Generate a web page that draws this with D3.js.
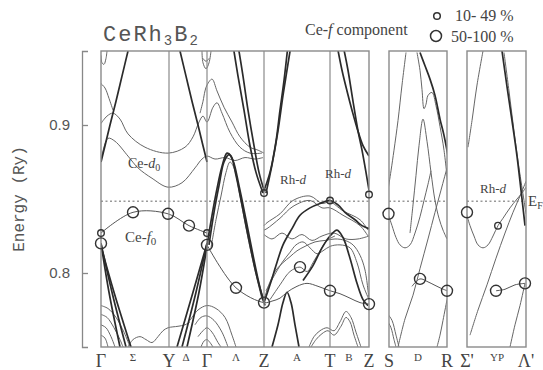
<!DOCTYPE html>
<html lang="en">
<head>
<meta charset="UTF-8">
<title>CeRh3B2 band structure</title>
<style>
  body { margin: 0; background: #fff; }
  svg text { fill: #444; }
</style>
</head>
<body>
<svg id="svg" width="543" height="370"></svg>
<script src="https://d3js.org/d3.v7.min.js"></script>
<script>
// k-path: symmetry points / lines and their position along the path (arb. units)
const kNames = ['Γ', 'Σ', 'Y', 'Δ', 'Γ', 'Λ', 'Z', 'A', 'T', 'B', 'Z', 'S', 'D', 'R', "Σ'", 'YP', "Λ'"]
const kValues = [0, 32, 68, 85, 106, 135, 163, 196, 229, 248, 268, 288, 317, 346, 366, 396, 425]
const lineLabels = ['Σ', 'Δ', 'Λ', 'A', 'B', 'D', 'YP']
const panels = [[0, 268], [288, 346], [366, 425]]
const yTicks = [0.8, 0.9]
const fermi = 0.8485

// ordinary bands [k, E(Ry)]
const thinBands = [
    // Γ - Σ - Y - Δ - Γ
    [[0, .947], [1, .942], [3, .941], [5, .945], [6, .950]],
    [[101, .950], [102, .942], [105, .938], [108, .942], [110, .950]],
    [[102, .945], [105, .943], [108, .945]],
    [[0, .928], [4, .925], [8, .918], [12, .910]],
    [[0, .901], [6, .906], [12, .908], [19, .904], [27, .894], [44, .885], [67, .881], [84, .885], [92, .892], [98, .902], [102, .906], [106, .902], [112, .912], [116, .915], [121, .908], [129, .895], [139, .885], [149, .881], [161, .881]],
    [[99, .908], [102, .916], [104, .923], [106, .927], [111, .931], [116, .923], [123, .912], [131, .902], [139, .892], [149, .885], [157, .883], [163, .881]],
    [[0, .876], [7, .891], [14, .889], [27, .879], [37, .871], [51, .864], [67, .858], [81, .861], [94, .871], [101, .877], [106, .879], [114, .877], [124, .878], [134, .876], [144, .878], [154, .877], [162, .878]],
    [[0, .778], [7, .776], [15, .770], [23, .760], [29, .750]],
    [[0, .772], [6, .770], [13, .763], [19, .755], [22, .750]],
    [[0, .765], [5, .763], [10, .757], [14, .750]],
    [[0, .758], [4, .756], [7, .750]],
    [[27, .750], [32, .755], [39, .757], [45, .755], [51, .753], [57, .757], [62, .761], [67, .763], [77, .764], [84, .765], [89, .767]],
    [[89, .768], [97, .775], [106, .778], [115, .776], [124, .770], [131, .758], [135, .750]],
    [[94, .765], [100, .770], [106, .771], [113, .768], [121, .760], [127, .750]],
    [[97, .757], [102, .761], [106, .763], [111, .760], [117, .753], [120, .750]],
    [[100, .750], [103, .754], [106, .755], [109, .753], [112, .750]],
    // Γ - Λ - Z
    [[110, .817], [115, .836], [120, .852], [125, .868], [129, .875], [133, .871], [139, .852], [146, .827], [154, .802], [161, .782]],
    // Z - A - T - B - Z
    [[163, .832], [166, .834], [179, .840], [192, .849], [209, .852], [221, .847], [229, .848], [242, .842], [259, .836], [267, .829]],
    [[163, .829], [166, .830], [179, .837], [192, .845], [209, .849], [221, .844], [229, .844], [242, .839], [259, .832], [267, .825]],
    [[163, .826], [171, .823], [181, .827], [191, .823], [201, .826], [211, .822], [221, .825], [233, .827], [245, .823], [257, .823], [268, .825]],
    [[163, .782], [169, .794], [175, .802], [182, .807], [189, .811], [196, .815], [204, .818], [214, .821], [224, .822], [234, .823], [244, .822], [252, .819], [259, .812], [264, .802], [268, .782]],
    [[165, .788], [173, .798], [181, .807], [189, .814], [195, .819], [202, .821], [209, .817], [216, .813], [222, .815], [229, .818], [239, .819], [249, .817], [256, .807], [262, .792], [268, .782]],
    [[169, .782], [179, .792], [189, .801], [199, .804], [206, .801], [212, .807], [219, .815], [226, .822], [234, .825]],
    [[208, .750], [213, .757], [219, .761], [226, .763], [233, .761], [239, .767], [245, .774], [250, .770], [255, .760], [260, .750]],
    [[210, .750], [215, .755], [221, .759], [227, .761], [233, .758], [240, .764], [245, .770], [249, .767], [253, .758], [257, .750]],
    // S - D - R
    [[287, .856], [290, .869], [293, .883], [297, .903], [301, .927], [305, .949]],
    [[316, .949], [319, .937], [321, .924], [323, .911], [325, .914], [327, .920], [331, .922], [335, .913], [339, .899], [343, .883], [347, .859]],
    [[309, .827], [312, .846], [315, .866], [318, .886], [322, .904], [326, .889], [330, .868], [334, .849], [338, .837], [342, .829], [346, .823]],
    [[287, .840], [291, .832], [295, .824], [299, .819], [304, .817], [309, .819], [314, .827], [319, .838], [323, .849], [327, .860], [330, .869]],
    [[297, .750], [304, .769], [312, .785], [319, .803], [327, .823], [334, .841], [340, .856], [346, .871]],
    [[287, .772], [291, .768], [295, .758], [298, .750]],
    [[287, .767], [290, .763], [293, .755], [295, .750]],
    [[346, .782], [342, .768], [339, .758], [336, .750]],
    // Σ' - YP - Λ'
    [[365, .841], [369, .832], [373, .825], [377, .819], [382, .817], [387, .819], [392, .825], [397, .832], [402, .837], [409, .844], [416, .850], [421, .854], [425, .858]],
    [[367, .885], [371, .903], [376, .927], [382, .950]],
    [[403, .949], [408, .923], [413, .896], [418, .871], [423, .849], [425, .840]],
    [[369, .758], [377, .775], [386, .792], [395, .810], [404, .827], [412, .841], [419, .852], [425, .862]],
    [[424, .793], [419, .778], [414, .765], [409, .750]]
]

// strongly dispersive bands drawn heavier
const thickBands = [
    [[0, .875], [4, .886], [9, .900], [15, .916], [21, .933], [27, .950]],
    [[79, .950], [85, .933], [91, .916], [97, .900], [102, .886], [106, .875]],
    [[0, .820], [8, .787], [19, .750]],
    [[0, .820], [11, .787], [25, .750]],
    [[0, .818], [13, .787], [30, .750]],
    [[106, .820], [92, .787], [76, .750]],
    [[106, .820], [95, .787], [81, .750]],
    [[106, .818], [98, .787], [86, .750]],
    [[106, .819], [111, .839], [116, .857], [121, .872], [126, .881], [130, .879], [135, .866], [141, .846], [148, .822], [155, .800], [163, .780]],
    [[108, .819], [113, .841], [118, .859], [123, .875], [128, .880], [132, .876], [138, .859], [145, .836], [152, .812], [159, .790], [164, .778]],
    [[132, .954], [137, .933], [143, .910], [149, .886], [155, .868], [162, .854]],
    [[137, .954], [142, .933], [147, .910], [153, .886], [158, .868], [163, .856]],
    [[162, .854], [169, .868], [175, .889], [179, .910], [183, .930], [187, .954]],
    [[165, .854], [171, .873], [177, .896], [182, .920], [186, .937], [190, .954]],
    [[236, .954], [241, .937], [246, .923], [251, .910], [256, .898], [262, .886], [268, .879]],
    [[242, .954], [247, .937], [252, .916], [257, .896], [261, .883], [265, .868], [268, .856]],
    [[171, .750], [177, .765], [182, .780], [186, .787], [190, .780], [194, .765], [198, .750]],
    [[163, .780], [169, .792], [175, .805], [182, .819], [191, .830], [199, .839], [209, .844], [219, .847], [229, .849], [237, .846], [244, .841], [254, .836], [261, .832], [268, .830]],
    [[202, .795], [212, .805], [221, .817], [229, .825], [236, .829], [242, .824], [249, .810], [256, .793], [262, .782], [267, .778]],
    [[319, .949], [324, .940], [329, .931], [334, .920], [339, .904], [343, .893], [347, .879]],
    [[401, .950], [406, .926], [411, .903], [416, .879], [420, .856], [424, .832]]
]

// Ce-f0 band and the weight of its f component
const fBands = [
    [[0, .827], [32, .841], [67, .840], [88, .832], [106, .827]],
    [[106, .819], [135, .790], [163, .780], [171, .781], [179, .783], [186, .787], [196, .791], [206, .793], [217, .791], [229, .788], [239, .786], [249, .783], [259, .780], [268, .779]],
    [[311, .791], [319, .796], [327, .794], [333, .792], [339, .790], [346, .788]],
    [[395, .788], [404, .789], [414, .792], [424, .793]]
]
const fLarge = [[0, .820], [32, .841], [67, .840], [88, .832], [106, .819], [135, .790], [163, .780], [199, .804], [229, .788], [268, .779], [287.5, .840], [319, .796], [346, .788], [366, .841], [395, .788], [424, .793]]
const fSmall = [[0, .827], [106, .827], [163, .854], [229, .849], [268, .853], [397, .832]]

// scales
const x = d3.scaleLinear().domain([0, 425]).range([101, 526])
const y = d3.scaleLinear().domain([0.75, 0.95]).range([347, 51])
const line = d3.line()
    .x(d => x(d[0]))
    .y(d => y(d[1]))
    .curve(d3.curveCatmullRom.alpha(0.5))

const svg = d3.select('#svg')

// clip one rect per panel
const defs = svg.append('defs')
panels.forEach((p, i) => {
    defs.append('clipPath').attr('id', 'clip' + i)
        .append('rect')
        .attr('x', x(p[0])).attr('y', y(0.95))
        .attr('width', x(p[1]) - x(p[0])).attr('height', y(0.75) - y(0.95))
})
const panelOf = band => {
    const mid = d3.mean(band, d => d[0])
    return panels.findIndex(p => mid >= p[0] - 3 && mid <= p[1] + 3)
}

// Fermi level
panels.forEach(p => {
    svg.append('line')
        .attr('x1', x(p[0])).attr('x2', x(p[1]))
        .attr('y1', y(fermi)).attr('y2', y(fermi))
        .attr('stroke', '#999').attr('stroke-width', 1.6)
        .attr('stroke-dasharray', '2,2.5')
})

// bands
const drawBands = (bands, color, width) => {
    svg.append('g').selectAll('path')
        .data(bands)
        .enter()
        .append('path')
        .attr('d', line)
        .attr('clip-path', d => `url(#clip${panelOf(d)})`)
        .attr('fill', 'none')
        .attr('stroke', color)
        .attr('stroke-width', width)
}
drawBands(thinBands, '#666', 1)
drawBands(thickBands, '#2b2b2b', 1.7)
drawBands(fBands, '#555', 1)

// panel frames and symmetry lines
panels.forEach(p => {
    svg.append('rect')
        .attr('x', x(p[0])).attr('y', y(0.95))
        .attr('width', x(p[1]) - x(p[0])).attr('height', y(0.75) - y(0.95))
        .attr('fill', 'none').attr('stroke', '#8a8a8a').attr('stroke-width', 1.4)
})
const inner = kValues.filter((k, i) => !lineLabels.includes(kNames[i]) && !panels.some(p => p[0] === k || p[1] === k))
svg.append('g').selectAll('line')
    .data(inner)
    .enter()
    .append('line')
    .attr('x1', d => x(d)).attr('x2', d => x(d))
    .attr('y1', y(0.95)).attr('y2', y(0.75))
    .attr('stroke', '#8a8a8a').attr('stroke-width', 1.2)

// f-weight circles
svg.append('g').selectAll('circle')
    .data(fLarge)
    .enter()
    .append('circle')
    .attr('cx', d => x(d[0])).attr('cy', d => y(d[1]))
    .attr('r', 5.5)
    .attr('fill', 'none').attr('stroke', '#333').attr('stroke-width', 1.4)
svg.append('g').selectAll('circle')
    .data(fSmall)
    .enter()
    .append('circle')
    .attr('cx', d => x(d[0])).attr('cy', d => y(d[1]))
    .attr('r', 3.3)
    .attr('fill', 'none').attr('stroke', '#333').attr('stroke-width', 1.4)

// y axis
const yAxis = svg.append('g')
    .attr('transform', 'translate(82,0)')
    .call(d3.axisLeft(y).tickValues(yTicks).tickFormat(d3.format('.1f'))
        .tickSizeInner(-6).tickSizeOuter(-6).tickPadding(12))
yAxis.selectAll('path, line').attr('stroke', '#888').attr('stroke-width', 1.3)
yAxis.selectAll('text')
    .style('font-family', 'Liberation Sans')
    .style('font-size', '15px')
    .style('fill', '#555')

svg.append('text')
    .attr('transform', `translate(24,${y(0.85)}) rotate(-90)`)
    .attr('text-anchor', 'middle')
    .style('font-family', 'Liberation Mono')
    .style('font-size', '16px')
    .style('fill', '#555')
    .text('Energy (Ry)')

// k labels
svg.append('g').selectAll('text')
    .data(kNames)
    .enter()
    .append('text')
    .attr('x', (d, i) => x(kValues[i]))
    .attr('y', d => lineLabels.includes(d) ? 361 : 367)
    .attr('text-anchor', 'middle')
    .style('font-family', 'Liberation Serif')
    .style('font-size', d => lineLabels.includes(d) ? '11px' : '18px')
    .text(d => d)

// title
const title = svg.append('text')
    .attr('x', 103).attr('y', 41)
    .style('font-family', 'Liberation Mono')
    .style('font-size', '22px')
    .style('letter-spacing', '2px')
    .style('fill', '#555')
title.append('tspan').text('CeRh')
title.append('tspan').attr('dy', 4).style('font-size', '14px').text('3')
title.append('tspan').attr('dy', -4).text('B')
title.append('tspan').attr('dy', 4).style('font-size', '14px').text('2')

// band annotations
const serif = sel => sel.style('font-family', 'Liberation Serif').style('font-size', '14px')
const ceD = svg.append('text').attr('x', x(27)).attr('y', y(0.871)).call(serif)
ceD.append('tspan').text('Ce-')
ceD.append('tspan').style('font-style', 'italic').text('d')
ceD.append('tspan').attr('dy', 3).style('font-size', '10px').text('0')
const ceF = svg.append('text').attr('x', x(24)).attr('y', y(0.821)).call(serif).style('font-size', '15px')
ceF.append('tspan').text('Ce-')
ceF.append('tspan').style('font-style', 'italic').text('f')
ceF.append('tspan').attr('dy', 3).style('font-size', '11px').text('0')
const rhD = [[179, .860], [224, .864], [379, .854]]
rhD.forEach(p => {
    const t = svg.append('text').attr('x', x(p[0])).attr('y', y(p[1])).call(serif).style('font-size', '13px')
    t.append('tspan').text('Rh-')
    t.append('tspan').style('font-style', 'italic').text('d')
})
const ef = svg.append('text').attr('x', x(427)).attr('y', y(0.845)).call(serif).style('font-size', '15px')
ef.append('tspan').text('E')
ef.append('tspan').attr('dy', 3).style('font-size', '10px').text('F')

// legend
const leg = svg.append('text').attr('x', 305).attr('y', 35).call(serif).style('font-size', '16px')
leg.append('tspan').text('Ce-')
leg.append('tspan').style('font-style', 'italic').text('f')
leg.append('tspan').text(' component')
svg.append('circle').attr('cx', 437).attr('cy', 16).attr('r', 3.3)
    .attr('fill', 'none').attr('stroke', '#333').attr('stroke-width', 1.5)
svg.append('circle').attr('cx', 436).attr('cy', 36).attr('r', 5.5)
    .attr('fill', 'none').attr('stroke', '#333').attr('stroke-width', 1.5)
svg.append('text').attr('x', 455).attr('y', 21).call(serif).style('font-size', '16px').text('10- 49 %')
svg.append('text').attr('x', 451).attr('y', 42).call(serif).style('font-size', '16px').text('50-100 %')
</script>
</body>
</html>
